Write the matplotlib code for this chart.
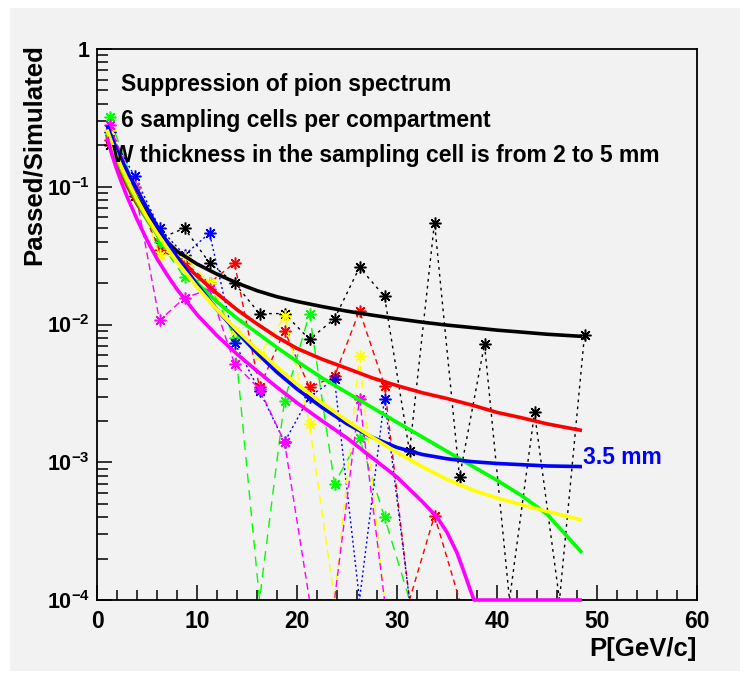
import numpy as np
import matplotlib
matplotlib.use("Agg")
import matplotlib.pyplot as plt
from matplotlib.patches import Rectangle
from matplotlib.ticker import LogLocator, MultipleLocator, FuncFormatter, NullFormatter

plt.rcParams['font.family'] = ['Liberation Sans', 'DejaVu Sans']
plt.rcParams['font.weight'] = 'bold'
plt.rcParams['mathtext.fontset'] = 'custom'
plt.rcParams['mathtext.rm'] = 'Liberation Sans:bold'
plt.rcParams['mathtext.bf'] = 'Liberation Sans:bold'
plt.rcParams['mathtext.default'] = 'bf'

# measured points, one per 2.5 GeV/c bin (0 = nothing passed)
pt_x = [1.25, 3.75, 6.25, 8.75, 11.25, 13.75, 16.25, 18.75, 21.25, 23.75,
        26.25, 28.75, 31.25, 33.75, 36.25, 38.75, 41.25, 43.75, 46.25, 48.75]
black_pts = [0.20, 0.085, 0.042, 0.050, 0.028, 0.020, 0.012, 0.012, 0.0078, 0.011,
             0.026, 0.016, 0.0012, 0.055, 0.00078, 0.0072, 0, 0.0023, 0, 0.0084]
red_pts = [0.22, 0.09, 0.035, 0.028, 0.020, 0.028, 0.0035, 0.009, 0.0035, 0.0042,
           0.0126, 0.0036, 0, 0.00041, 0, 0, 0, 0, 0, 0]
green_pts = [0.32, 0.10, 0.040, 0.022, 0.020, 0.008, 0, 0.0028, 0.012, 0.0007,
             0.0015, 0.0004, 0, 0, 0, 0, 0, 0, 0, 0]
blue_pts = [0.25, 0.12, 0.050, 0.032, 0.046, 0.0074, 0.0033, 0.0014, 0.0030, 0.0040,
            0, 0.0029, 0, 0, 0, 0, 0, 0, 0, 0]
yellow_pts = [0.26, 0.10, 0.032, 0.031, 0.020, 0.009, 0.006, 0.0115, 0.0019, 0,
              0.0059, 0, 0, 0, 0, 0, 0, 0, 0, 0]
magenta_pts = [0.28, 0.10, 0.0107, 0.0156, 0.018, 0.0052, 0.0034, 0.0014, 0, 0,
               0.0029, 0, 0, 0, 0, 0, 0, 0, 0, 0]

# fitted curves
fit_x = [1, 1.5, 2, 2.5, 3, 4, 5, 6, 7, 8, 10, 12, 14, 16, 18, 20, 22.5, 25,
         27.5, 30, 32.5, 35, 37.5, 40, 42.5, 45, 48.5]
black_fit = [0.24, 0.19, 0.155, 0.13, 0.11, 0.083, 0.063, 0.050, 0.040, 0.034, 0.0275,
             0.0232, 0.0200, 0.0176, 0.0159, 0.0147, 0.0135, 0.0125, 0.0117, 0.0110,
             0.0104, 0.0099, 0.0095, 0.0091, 0.0088, 0.0085, 0.0082]
red_fit = [0.24, 0.185, 0.148, 0.122, 0.102, 0.075, 0.058, 0.046, 0.037, 0.031, 0.0225,
           0.0168, 0.0128, 0.0101, 0.0081, 0.0067, 0.0056, 0.0048, 0.0041, 0.0036,
           0.0032, 0.0029, 0.0026, 0.0023, 0.0021, 0.0019, 0.0017]
green_fit = [0.25, 0.195, 0.158, 0.13, 0.108, 0.078, 0.058, 0.045, 0.036, 0.029, 0.0200,
             0.0146, 0.0111, 0.0087, 0.0068, 0.0054, 0.0041, 0.0032, 0.0025, 0.00195,
             0.00153, 0.0012, 0.00094, 0.00074, 0.00057, 0.00042, 0.00022]
blue_fit = [0.28, 0.225, 0.185, 0.155, 0.13, 0.095, 0.070, 0.052, 0.040, 0.031, 0.0195,
            0.0128, 0.0088, 0.0062, 0.0045, 0.0034, 0.0025, 0.0019, 0.00152, 0.00128,
            0.00114, 0.00106, 0.00101, 0.00098, 0.00096, 0.00094, 0.00093]
yellow_fit = [0.26, 0.205, 0.165, 0.136, 0.113, 0.081, 0.060, 0.046, 0.036, 0.0285, 0.0187,
              0.0128, 0.0091, 0.0066, 0.0049, 0.0037, 0.0027, 0.0020, 0.00152, 0.00118,
              0.00093, 0.00075, 0.00063, 0.00055, 0.00049, 0.00044, 0.00038]
magenta_fit_x = [1, 1.5, 2, 2.5, 3, 4, 5, 6, 7, 8, 10, 12, 14, 16, 18, 20, 22.5, 25,
                 27.5, 30, 32.5, 34, 35, 36, 36.7, 37.3, 37.7, 40, 45, 48.5]
magenta_fit = [0.23, 0.17, 0.132, 0.105, 0.085, 0.058, 0.041, 0.030, 0.023, 0.018, 0.0118,
               0.0083, 0.0061, 0.0046, 0.0035, 0.0027, 0.0020, 0.0015, 0.00108, 0.00078,
               0.00052, 0.00040, 0.00031, 0.00022, 0.00016, 0.00012, 0.0001,
               3e-5, 5e-6, 1e-6]

series = [
    ('black', black_pts, black_fit, (0, (2, 3))),
    ('#ff0000', red_pts, red_fit, (0, (4, 3))),
    ('#00ff00', green_pts, green_fit, (0, (7, 5))),
    ('#0000ff', blue_pts, blue_fit, (0, (1.5, 2))),
    ('#ffff00', yellow_pts, yellow_fit, (0, (6, 4))),
    ('#ff00ff', magenta_pts, magenta_fit, (0, (5, 3))),
]

YMIN, YMAX = 1e-4, 1.0
W, H = 746, 677

fig = plt.figure(figsize=(W / 100, H / 100), dpi=100, facecolor='white')
fig.patches.append(Rectangle((10 / W, 1 - 671 / H), 730 / W, 663 / H,
                             transform=fig.transFigure, facecolor='#f2f2f2',
                             edgecolor='none', zorder=-10))
ax = fig.add_axes([97 / W, 1 - 600 / H, 600 / W, 551 / H])
ax.set_facecolor('#f2f2f2')
ax.set_yscale('log')
ax.set_xlim(0, 60)
ax.set_ylim(YMIN, YMAX)

for color, pts, fit, ls in series:
    pts = np.array(pts, dtype=float)
    # empty bins sit on the lower frame edge
    drawn = np.where(pts > 0, pts, YMIN)
    ax.plot(pt_x, drawn, color=color, lw=1.0, ls=ls, zorder=2)
    keep = pts > 0
    ax.plot(np.array(pt_x)[keep], pts[keep], ls='none', marker=(8, 2, 0),
            ms=8.5, mew=1.1, color=color, zorder=2)

for color, pts, fit, ls in series:
    fx = magenta_fit_x if color == '#ff00ff' else fit_x
    fy = np.maximum(np.array(fit, dtype=float), YMIN)
    ax.plot(fx, fy, color=color, lw=2.6, solid_capstyle='butt', zorder=3,
            clip_on=False)

for side in ['left', 'right', 'top', 'bottom']:
    ax.spines[side].set_linewidth(1.3)
    ax.spines[side].set_zorder(2.5)

ax.xaxis.set_major_locator(MultipleLocator(10))
ax.xaxis.set_minor_locator(MultipleLocator(2))
ax.yaxis.set_major_locator(LogLocator(base=10))
ax.yaxis.set_minor_locator(LogLocator(base=10, subs=np.arange(2, 10)))
ax.yaxis.set_minor_formatter(NullFormatter())


def ylab(v, pos):
    e = int(round(np.log10(v)))
    if e == 0:
        return '1'
    return r'$10^{%d}$' % e


ax.yaxis.set_major_formatter(FuncFormatter(ylab))
ax.tick_params(axis='both', which='both', direction='in', top=False, right=False,
               width=1.1, color='black')
ax.tick_params(axis='x', which='major', length=11, pad=7, labelsize=16.5)
ax.tick_params(axis='x', which='minor', length=7)
ax.tick_params(axis='y', which='major', length=11, pad=5, labelsize=15.5)
ax.tick_params(axis='y', which='minor', length=8)
for lab in ax.get_xticklabels() + ax.get_yticklabels():
    lab.set_fontweight('bold')

ax.set_xlabel('P[GeV/c]', fontsize=18.5, fontweight='bold', loc='right', labelpad=3)
ax.set_ylabel('Passed/Simulated', fontsize=18.5, fontweight='bold', loc='top')
ax.yaxis.set_label_coords(-0.086, 1.008)

ax.text(2.4, 0.55, 'Suppression of pion spectrum', fontsize=16.5, fontweight='bold',
        va='center', ha='left', zorder=4)
ax.text(2.4, 0.305, '6 sampling cells per compartment', fontsize=16.5, fontweight='bold',
        va='center', ha='left', zorder=4)
ax.text(1.5, 0.169, 'W thickness in the sampling cell is from 2 to 5 mm', fontsize=16.5,
        fontweight='bold', va='center', ha='left', zorder=4)
ax.text(48.6, 0.00108, '3.5 mm', fontsize=16.5, fontweight='bold', color='#0000ff',
        va='center', ha='left', zorder=4)

fig.savefig('out.png', dpi=100, facecolor='white')
